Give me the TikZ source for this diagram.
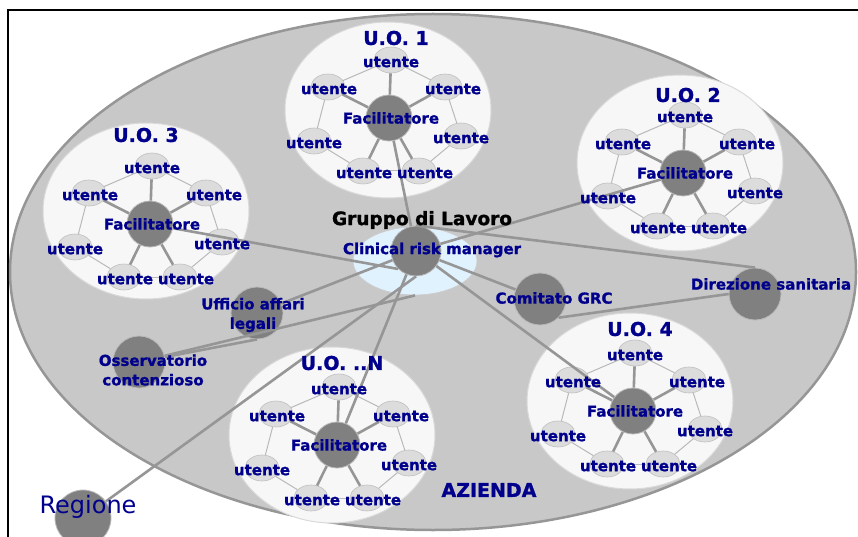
\documentclass[tikz,border=0pt]{standalone}
\usepackage{fontspec}
\setmainfont{DejaVu Sans}[BoldFeatures={FakeBold=1.2}]
\usetikzlibrary{shapes.geometric}
\definecolor{navytext}{RGB}{0,0,140}
\definecolor{bggray}{RGB}{200,200,200}
\definecolor{rimgray}{RGB}{150,150,150}
\definecolor{darknode}{RGB}{128,128,128}
\definecolor{unitfill}{RGB}{247,247,247}
\definecolor{userfill}{RGB}{220,220,220}
\definecolor{linkgray}{RGB}{150,150,150}
\definecolor{ringgray}{RGB}{185,185,185}
\definecolor{groupblue}{RGB}{225,242,255}

% fac x/y, disc x/y, title x/y, title
\def\unitlist{1/389/118/388/110/396/38/{U.O. 1},
               2/683/173/680/163/688/95/{U.O. 2},
               3/150/224/146/211/146/135/{U.O. 3},
               4/633/411/630/401/640/329/{U.O. 4},
               N/337/445/332/435/342/363/{U.O. ..N}}
% utente offsets from the facilitator, and text shift
\def\userlist{a/2/-58/0, b/-61/-31/1, c/56/-31/8, d/72/18/0,
              e/-75/23/0, f/-26/53/1, g/30/53/6}

\begin{document}
\begin{tikzpicture}[
    x=1pt,
    y=-1pt,
    darkdot/.style={circle, fill=darknode, draw=gray!55, line width=0.8pt, inner sep=0pt},
    userdot/.style={ellipse, fill=userfill, draw=gray!50, line width=0.6pt,
                    inner sep=0pt, minimum width=34pt, minimum height=26pt},
    unitdisc/.style={ellipse, fill=unitfill, draw=gray!30, line width=1pt,
                     inner sep=0pt, minimum width=206pt, minimum height=176pt},
    link/.style={draw=linkgray, line width=2.6pt},
    ring/.style={draw=ringgray, line width=1pt},
    lbl/.style={text=navytext, font=\bfseries\fontsize{15}{19.5}\selectfont,
                inner sep=0pt, align=center},
    unittitle/.style={text=navytext, font=\bfseries\fontsize{19}{20}\selectfont, inner sep=0pt}
]

\useasboundingbox (0,0) rectangle (858,537);

% Frame
\draw[line width=2.5pt] (8,537) -- (8,10) -- (858,10);

% Azienda
\draw[rimgray, fill=bggray, line width=2.5pt] (433,272) ellipse [x radius=423, y radius=258];

% Units with facilitator and users
\foreach \n/\fx/\fy/\cx/\cy/\tx/\ty/\ttl in \unitlist{
    \node[unitdisc] (d\n) at (\cx,\cy) {};
    \node[darkdot, minimum size=46pt] (f\n) at (\fx,\fy) {};
    \foreach \k/\ax/\ay/\lx in \userlist
        \node[userdot] (u\n\k) at (\fx+\ax,\fy+\ay) {};
    \foreach \p/\q in {a/c,c/d,d/g,g/f,f/e,e/b,b/a}
        \draw[ring] (u\n\p) -- (u\n\q);
    \foreach \k in {a,b,c,f,g}
        \draw[link] (f\n) -- (u\n\k);
}

% Gruppo di lavoro
\node[ellipse, fill=groupblue, draw=gray!40, line width=0.8pt,
      minimum width=124pt, minimum height=68pt] (grp) at (415,261) {};
\node[darkdot, minimum size=50pt] (cen) at (416,251) {};

% Other offices
\node[darkdot, minimum size=52pt] (uff) at (257,313) {};
\node[darkdot, minimum size=52pt] (oss) at (139,362) {};
\node[darkdot, minimum size=52pt] (grc) at (540,299) {};
\node[darkdot, minimum size=52pt] (dir) at (755,294) {};
\node[darkdot, minimum size=56pt] (reg) at (83,518) {};

% Links
\draw[link] (f1) -- (cen);
\draw[link] (cen) -- (f2);
\draw[link] (cen.north) -- (dir.north);
\draw[link] (cen) -- (grc);
\draw[link] (grc.south east) -- (dir.west);
\draw[link] (cen) -- (f4);
\draw[link] (cen) -- (fN);
\draw[link] (f3) -- (cen.south west);
\draw[link] (uff) -- (cen);
\draw[link] (oss) -- (grp.south);
\draw[link] (oss) -- (uff.south);
\draw[link] (reg) -- (cen.south);

% Texts
\foreach \n/\fx/\fy/\cx/\cy/\tx/\ty/\ttl in \unitlist{
    \node[unittitle] (t\n) at (\tx,\ty) {\ttl};
    \node[lbl] (tf\n) at (\fx+2,\fy) {Facilitatore};
    \foreach \k/\ax/\ay/\lx in \userlist
        \node[lbl] (tu\n\k) at (\fx+\ax+\lx,\fy+\ay+2) {utente};
}

\node[font=\bfseries\fontsize{18.5}{20}\selectfont, inner sep=0pt] (t-grp) at (422,220) {Gruppo di Lavoro};
\node[lbl] (t-cen) at (432,250) {Clinical risk manager};
\node[lbl] (t-uff) at (253,315) {Ufficio affari\\legali};
\node[lbl] (t-oss) at (153,370) {Osservatorio\\contenzioso};
\node[lbl] (t-grc) at (554,298) {Comitato GRC};
\node[lbl] (t-dir) at (771,284) {Direzione sanitaria};
\node[unittitle] (t-az) at (489,490) {AZIENDA};
\node[text=navytext, font=\fontsize{24}{26}\selectfont, inner sep=0pt] (t-reg) at (88,507) {Regione};

\end{tikzpicture}
\end{document}
